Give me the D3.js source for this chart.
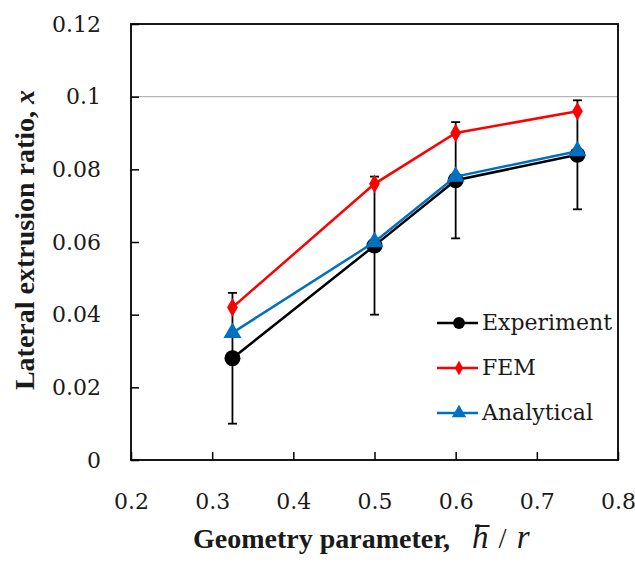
<!DOCTYPE html>
<html>
<head>
<meta charset="utf-8">
<script src="https://cdn.jsdelivr.net/npm/d3@7"></script>
<style>
  html, body { margin: 0; padding: 0; background: #fff; }
  svg { display: block; }
</style>
</head>
<body>
<svg id="chart" width="635" height="565"></svg>
<script>
// ---- data ----
const xValues    = [0.325, 0.5, 0.6, 0.75];
const experiment = [0.028, 0.059, 0.077, 0.084];
const expError   = [0.018, 0.019, 0.016, 0.015];
const fem        = [0.042, 0.076, 0.090, 0.096];
const analytical = [0.035, 0.060, 0.078, 0.085];
const xTicks = [0.2, 0.3, 0.4, 0.5, 0.6, 0.7, 0.8];
const yTicks = [0, 0.02, 0.04, 0.06, 0.08, 0.1, 0.12];
const gridValues = [0.1];
const seriesNames = ["Experiment", "FEM", "Analytical"];

// ---- layout ----
const svg = d3.select("#chart");
const L = 131, R = 618, T = 24, B = 460;
const x = d3.scaleLinear().domain([0.2, 0.8]).range([L, R]);
const y = d3.scaleLinear().domain([0, 0.12]).range([B, T]);
const tickFont = "'DejaVu Serif', serif";
const titleFont = "'Liberation Serif', 'Times New Roman', serif";

// grid line
svg.append("g").selectAll("line").data(gridValues).join("line")
  .attr("x1", L).attr("x2", R)
  .attr("y1", d => y(d)).attr("y2", d => y(d))
  .attr("stroke", "#a6a6a6").attr("stroke-width", 1);

// axes
const fmt = d => d3.format("~g")(d);
const gx = svg.append("g").attr("transform", `translate(0,${B})`)
  .call(d3.axisBottom(x).tickValues(xTicks).tickFormat(fmt).tickSizeInner(-8).tickSizeOuter(0).tickPadding(33));
const gy = svg.append("g").attr("transform", `translate(${L},0)`)
  .call(d3.axisLeft(y).tickValues(yTicks).tickFormat(fmt).tickSizeInner(-8).tickSizeOuter(0).tickPadding(30));
[gx, gy].forEach(g => {
  g.select(".domain").remove();
  g.selectAll(".tick line").attr("stroke", "#000").attr("stroke-width", 1.5);
  g.selectAll("text").attr("font-family", tickFont).attr("font-size", 22).attr("fill", "#1a1a1a");
});
gx.selectAll(".tick text").attr("dy", "0.35em").attr("y", 41);

// frame
svg.append("rect").attr("x", L).attr("y", T).attr("width", R - L).attr("height", B - T)
  .attr("fill", "none").attr("stroke", "#000").attr("stroke-width", 1.8);

// error bars (experiment)
const eb = svg.append("g").attr("stroke", "#000").attr("stroke-width", 1.8);
xValues.forEach((xv, i) => {
  const lo = experiment[i] - expError[i], hi = experiment[i] + expError[i];
  eb.append("line").attr("x1", x(xv)).attr("x2", x(xv)).attr("y1", y(lo)).attr("y2", y(hi));
  eb.append("line").attr("x1", x(xv) - 4.5).attr("x2", x(xv) + 4.5).attr("y1", y(lo)).attr("y2", y(lo));
  eb.append("line").attr("x1", x(xv) - 4.5).attr("x2", x(xv) + 4.5).attr("y1", y(hi)).attr("y2", y(hi));
});

const series = [
  { name: seriesNames[0], values: experiment, color: "#000000", symbol: d3.symbolCircle, size: 200, legSize: 110 },
  { name: seriesNames[1], values: fem,        color: "#ff0000", symbol: d3.symbolDiamond, size: 100, legSize: 60 },
  { name: seriesNames[2], values: analytical, color: "#0070c0", symbol: d3.symbolTriangle, size: 140, legSize: 90 }
];

const line = d3.line().x(d => x(d[0])).y(d => y(d[1]));
series.forEach(s => {
  const pts = xValues.map((xv, i) => [xv, s.values[i]]);
  const g = svg.append("g");
  g.append("path").attr("d", line(pts)).attr("fill", "none")
    .attr("stroke", s.color).attr("stroke-width", 2.5);
  g.selectAll("path.m").data(pts).join("path").attr("class", "m")
    .attr("d", d3.symbol().type(s.symbol).size(s.size))
    .attr("transform", d => `translate(${x(d[0])},${y(d[1])})`)
    .attr("fill", s.color);
});

// legend
const legY = [323, 368, 413];
series.forEach((s, i) => {
  const g = svg.append("g").attr("transform", `translate(0,${legY[i]})`);
  g.append("line").attr("x1", 437).attr("x2", 478).attr("y1", 0).attr("y2", 0)
    .attr("stroke", s.color).attr("stroke-width", 2.5);
  g.append("path").attr("d", d3.symbol().type(s.symbol).size(s.legSize)())
    .attr("transform", "translate(459,0)").attr("fill", s.color);
  g.append("text").attr("x", 482).attr("y", 7).text(s.name)
    .attr("font-family", tickFont).attr("font-size", 22).attr("fill", "#1a1a1a");
});

// y title
const yt = svg.append("text")
  .attr("transform", "translate(34,240) rotate(-90)")
  .attr("text-anchor", "middle")
  .attr("font-family", titleFont).attr("font-size", 28).attr("font-weight", "bold").attr("fill", "#1a1a1a");
yt.append("tspan").text("Lateral extrusion ratio, ");
yt.append("tspan").attr("font-style", "italic").text("x");

// x title
const xt = svg.append("text")
  .attr("x", 193).attr("y", 548)
  .attr("font-family", titleFont).attr("font-size", 28).attr("fill", "#1a1a1a");
xt.append("tspan").attr("font-weight", "bold").text("Geometry parameter,");
const hSpan = xt.append("tspan").attr("dx", 22).attr("font-style", "italic").attr("font-size", 33).text("h");
xt.append("tspan").attr("dx", 10).attr("font-size", 29).text("/");
xt.append("tspan").attr("dx", 10).attr("font-style", "italic").attr("font-size", 33).text("r");
// overbar on h
const ext = hSpan.node().getExtentOfChar(0);
svg.append("line")
  .attr("x1", ext.x + 3).attr("x2", ext.x + ext.width + 1)
  .attr("y1", 526).attr("y2", 526)
  .attr("stroke", "#1a1a1a").attr("stroke-width", 2);
</script>
</body>
</html>
